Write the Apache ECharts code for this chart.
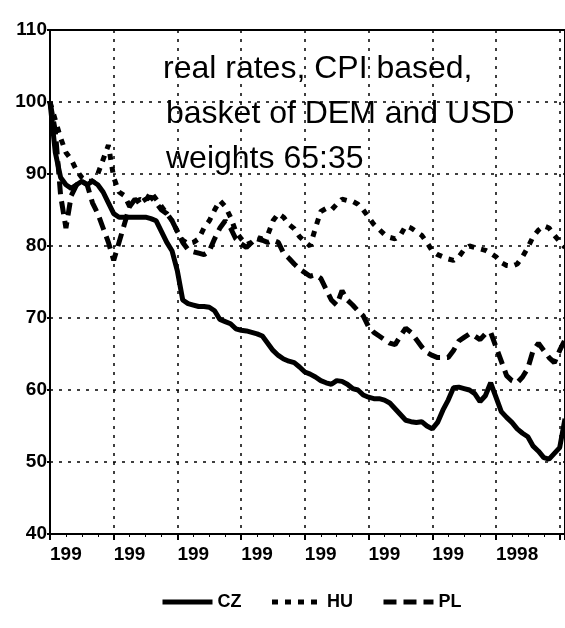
<!DOCTYPE html>
<html>
<head>
<meta charset="utf-8">
<script src="https://cdn.jsdelivr.net/npm/echarts@6/dist/echarts.min.js"></script>
<style>
html, body { margin: 0; padding: 0; background: #fff; }
#chart { width: 565px; height: 628px; }
</style>
</head>
<body>
<div id="chart"></div>
<script>
// monthly index, month 0 = Jan of first year, ticks every 12 months
const xLabels = ['199', '199', '199', '199', '199', '199', '199', '1998'];

const cz = [100, 93, 89.5, 88.5, 88, 88.5, 89, 88.5, 89, 88.5,
    87.5, 86, 84.5, 84, 84, 84, 84, 84, 84, 83.8,
    83.5, 82, 80.5, 79.3, 76.5, 72.5, 72, 71.8, 71.6, 71.6,
    71.5, 71, 69.8, 69.5, 69.2, 68.5, 68.3, 68.2, 68, 67.8,
    67.5, 66.5, 65.5, 64.8, 64.3, 64, 63.8, 63.2, 62.5, 62.2,
    61.8, 61.3, 61, 60.8, 61.3, 61.2, 60.8, 60.2, 60, 59.3,
    59, 58.8, 58.8, 58.6, 58.2, 57.4, 56.6, 55.8, 55.6, 55.5,
    55.6, 55, 54.6, 55.5, 57.2, 58.6, 60.3, 60.4, 60.2, 60,
    59.5, 58.4, 59.2, 61, 59, 57, 56.2, 55.5, 54.6, 54,
    53.5, 52.2, 51.5, 50.6, 50.4, 51.2, 52, 56];

const hu = [100, 97.5, 95, 93, 92, 90.5, 89.5, 89, 89, 90,
    92, 94, 89.5, 87.5, 87, 85.5, 86, 86.5, 86.2, 87.5,
    86.5, 85.5, 84.5, 83.5, 82, 80.8, 80.3, 80.5, 81, 82.5,
    83.5, 85, 86.3, 85.5, 84, 82, 81, 80.2, 80.5, 81.2,
    81, 81.5, 83.5, 84.5, 84, 83, 82.4, 81.3, 80.6, 80,
    82.5, 84.8, 85.2, 85, 85.8, 86.5, 86.3, 86.2, 85.8, 85,
    84, 83, 82.3, 81.6, 81.2, 81, 81.5, 82.8, 82.5, 82,
    81.5, 80.5, 79.3, 78.8, 78.5, 78.2, 78, 78.5, 79.5, 80,
    79.8, 79.6, 79.4, 79, 78.5, 77.7, 77.3, 77.2, 77.5, 78.5,
    79.8, 81.3, 82.2, 82.8, 82.5, 81.5, 80.6, 79.8];

const pl = [100, 96, 87, 82.5, 87, 88.5, 89, 88.5, 86, 84.5,
    82.5, 80.5, 78, 80.5, 83, 85.5, 86.5, 86, 86.5, 86.8,
    86, 85, 84.5, 83.5, 82, 80.5, 79.5, 79.2, 79, 78.8,
    79.3, 81, 82.5, 83.5, 82.5, 81, 80.3, 79.8, 80.5, 81,
    80.8, 80.5, 80.8, 80.5, 79, 78.3, 77.5, 76.8, 76.3, 75.8,
    76, 75.5, 74, 72.5, 71.8, 73.8, 72.5, 71.8, 71, 70.3,
    68.8, 68, 67.5, 67, 66.5, 66.3, 67.5, 68.6, 68, 67,
    66, 65.2, 64.8, 64.5, 64.5, 64.5, 65.5, 66.8, 67.3, 67.8,
    67.5, 67, 67.8, 68, 66, 64, 62, 61.3, 61, 61.8,
    63, 65.5, 66.5, 65.5, 64.5, 63.8, 65.5, 67];

const noteLines = ['real rates, CPI based,', 'basket of DEM and USD', 'weights 65:35'];

const toPairs = arr => arr.map((v, i) => [i, v]);
const FONT = '"Liberation Sans", Arial, sans-serif';

let chart = echarts.init(document.getElementById('chart'));
chart.setOption({
    animation: false,
    backgroundColor: '#fff',
    grid: {
        left: 50,
        top: 30,
        right: -3,
        bottom: 94,
        show: true,
        borderColor: '#000',
        borderWidth: 2
    },
    legend: {
        data: ['CZ', 'HU', 'PL'],
        left: 155,
        top: 588,
        itemWidth: 50,
        itemHeight: 14,
        itemGap: 28,
        itemStyle: { opacity: 0 },
        lineStyle: { width: 5 },
        textStyle: {
            color: '#000',
            fontFamily: FONT,
            fontSize: 18,
            fontWeight: 'bold'
        }
    },
    xAxis: {
        type: 'value',
        min: 0,
        max: 97,
        interval: 12,
        axisLine: { lineStyle: { color: '#000', width: 2 } },
        axisTick: { show: true, length: 6, lineStyle: { color: '#000', width: 2 } },
        minorTick: { show: true, splitNumber: 4, length: 3, lineStyle: { color: '#000' } },
        splitLine: { show: true, lineStyle: { color: '#000', width: 1.5, type: [3, 6] } },
        axisLabel: {
            showMaxLabel: false,
            align: 'left',
            margin: 11,
            color: '#000',
            fontFamily: FONT,
            fontSize: 19,
            fontWeight: 'bold',
            formatter: v => xLabels[Math.round(v / 12)] || ''
        }
    },
    yAxis: {
        type: 'value',
        min: 40,
        max: 110,
        interval: 10,
        axisLine: { show: true, lineStyle: { color: '#000', width: 2 } },
        axisTick: { show: true, length: 3, lineStyle: { color: '#000', width: 2 } },
        splitLine: { show: true, lineStyle: { color: '#000', width: 1.5, type: [3, 6] } },
        axisLabel: {
            margin: 3,
            color: '#000',
            fontFamily: FONT,
            fontSize: 19,
            fontWeight: 'bold'
        }
    },
    graphic: [
        { type: 'text', left: 163, top: 53, style: { text: noteLines[0], font: '32px ' + FONT, fill: '#000' } },
        { type: 'text', left: 166, top: 98, style: { text: noteLines[1], font: '32px ' + FONT, fill: '#000' } },
        { type: 'text', left: 166, top: 143, style: { text: noteLines[2], font: '32px ' + FONT, fill: '#000' } }
    ],
    series: [
        {
            name: 'CZ',
            type: 'line',
            data: toPairs(cz),
            symbol: 'none',
            lineStyle: { color: '#000', width: 5 },
            itemStyle: { color: '#000' }
        },
        {
            name: 'HU',
            type: 'line',
            data: toPairs(hu),
            symbol: 'none',
            lineStyle: { color: '#000', width: 5, type: [6, 7] },
            itemStyle: { color: '#000' }
        },
        {
            name: 'PL',
            type: 'line',
            data: toPairs(pl),
            symbol: 'none',
            lineStyle: { color: '#000', width: 5, type: [13, 7] },
            itemStyle: { color: '#000' }
        }
    ]
});
</script>
</body>
</html>
